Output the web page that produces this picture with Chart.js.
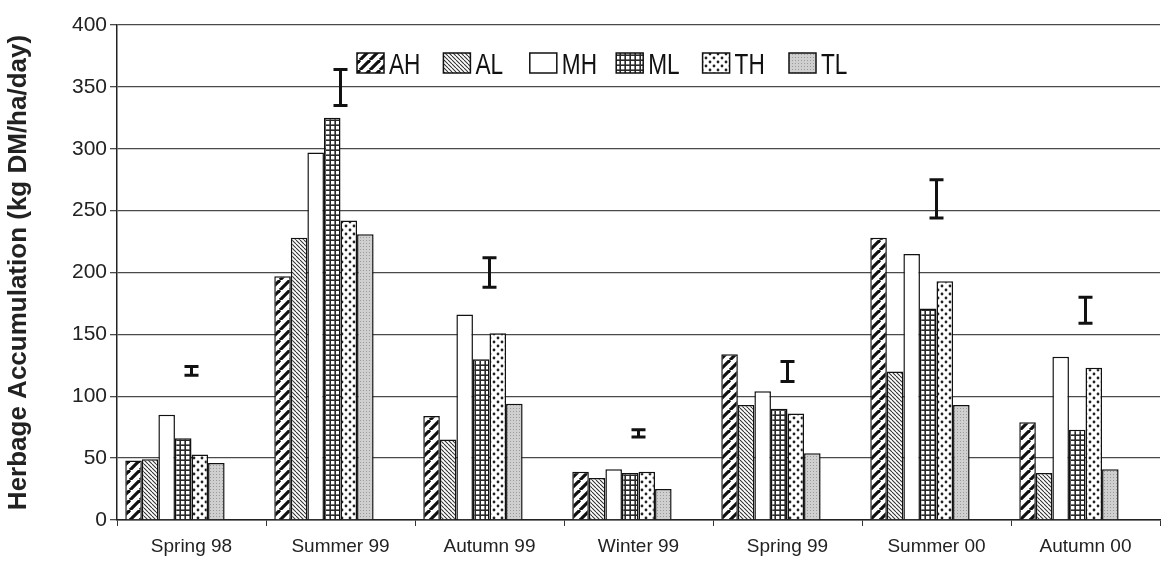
<!DOCTYPE html>
<html>
<head>
<meta charset="utf-8">
<script src="https://cdn.jsdelivr.net/npm/chart.js@4"></script>
<style>
  html, body { margin: 0; padding: 0; background: #fff; }
  #wrap { width: 1168px; height: 562px; position: relative; }
</style>
</head>
<body>
<div id="wrap"><canvas id="c"></canvas></div>
<script>
// data
var categories = ['Spring 98', 'Summer 99', 'Autumn 99', 'Winter 99', 'Spring 99', 'Summer 00', 'Autumn 00'];
var seriesNames = ['AH', 'AL', 'MH', 'ML', 'TH', 'TL'];
var AH = [48, 197, 84, 39, 134, 228, 79];
var AL = [49, 228, 65, 34, 93, 120, 38];
var MH = [85, 297, 166, 41, 104, 215, 132];
var ML = [66, 325, 130, 38, 90, 171, 73];
var TH = [53, 242, 151, 39, 86, 193, 123];
var TL = [46, 231, 94, 25, 54, 93, 41];
// LSD bars drawn above each season
var errLow = [117, 335, 188, 67, 112, 244, 159];
var errHigh = [124, 364, 212, 73, 128, 275, 180];
var yMin = 0, yMax = 400, yStep = 50;

var canvas = document.getElementById('c');
var ctx = canvas.getContext('2d');

function tile(size, draw) {
    var t = document.createElement('canvas');
    t.width = size; t.height = size;
    var g = t.getContext('2d');
    draw(g, size);
    return ctx.createPattern(t, 'repeat');
}

// fill patterns, one per treatment
var patAH = tile(10, function(g, s) {
    g.fillStyle = '#fff'; g.fillRect(0, 0, s, s);
    g.strokeStyle = '#111'; g.lineWidth = 3.2;
    [-s, 0, s].forEach(function(o) {
        g.beginPath(); g.moveTo(o, s); g.lineTo(o + s, 0); g.stroke();
    });
});
var patAL = tile(4, function(g, s) {
    g.fillStyle = '#fff'; g.fillRect(0, 0, s, s);
    g.strokeStyle = '#333'; g.lineWidth = 1.1;
    [-s, 0, s].forEach(function(o) {
        g.beginPath(); g.moveTo(o, 0); g.lineTo(o + s, s); g.stroke();
    });
});
var patML = tile(5, function(g, s) {
    g.fillStyle = '#2a2a2a'; g.fillRect(0, 0, s, s);
    g.fillStyle = '#fff'; g.fillRect(1, 1, 3.4, 3.4);
});
var patTH = tile(8, function(g, s) {
    g.fillStyle = '#fff'; g.fillRect(0, 0, s, s);
    g.fillStyle = '#222';
    [[2, 2], [6, 6]].forEach(function(p) {
        g.beginPath(); g.arc(p[0], p[1], 1.4, 0, Math.PI * 2); g.fill();
    });
});
var patTL = tile(3, function(g, s) {
    g.fillStyle = '#cfcfcf'; g.fillRect(0, 0, s, s);
    g.fillStyle = '#9a9a9a'; g.fillRect(0, 0, 1, 1);
});

var fills = [patAH, patAL, '#ffffff', patML, patTH, patTL];
var values = [AH, AL, MH, ML, TH, TL];

var datasets = seriesNames.map(function(name, i) {
    return {
        label: name,
        data: values[i],
        backgroundColor: fills[i],
        borderColor: '#111',
        borderWidth: 1.5,
        borderSkipped: 'bottom'
    };
});
// two empty series keep the bar slots of the original spreadsheet
datasets.push({ label: '', data: categories.map(function() { return null; }) });
datasets.push({ label: '', data: categories.map(function() { return null; }) });

// I-shaped bars at the centre of each season
var errorBars = {
    id: 'errorBars',
    afterDatasetsDraw: function(chart) {
        var x = chart.scales.x, y = chart.scales.y, c = chart.ctx;
        c.save();
        c.strokeStyle = '#111';
        c.lineWidth = 3;
        c.lineCap = 'butt';
        categories.forEach(function(cat, i) {
            var px = x.getPixelForValue(i);
            var top = y.getPixelForValue(errHigh[i]);
            var bot = y.getPixelForValue(errLow[i]);
            c.beginPath();
            c.moveTo(px, top); c.lineTo(px, bot);
            c.moveTo(px - 7, top); c.lineTo(px + 7, top);
            c.moveTo(px - 7, bot); c.lineTo(px + 7, bot);
            c.stroke();
        });
        c.restore();
    }
};

// legend sits inside the plot, in one row near the top
var insideLegend = {
    id: 'insideLegend',
    afterDraw: function(chart) {
        var c = chart.ctx;
        c.save();
        c.font = '29px Arial, "Liberation Sans", sans-serif';
        c.textBaseline = 'alphabetic';
        seriesNames.forEach(function(name, i) {
            var bx = 357 + i * 86.4, by = 53;
            c.fillStyle = fills[i];
            c.fillRect(bx, by, 27, 20);
            c.strokeStyle = '#111';
            c.lineWidth = 1.5;
            c.strokeRect(bx, by, 27, 20);
            c.fillStyle = '#111';
            // condensed lettering, as in the original
            c.save();
            c.translate(bx + 32, by + 21);
            c.scale(0.78, 1);
            c.fillText(name, 0, 0);
            c.restore();
        });
        c.restore();
    }
};

new Chart(canvas, {
    type: 'bar',
    data: { labels: categories, datasets: datasets },
    options: {
        responsive: true,
        maintainAspectRatio: false,
        animation: false,
        layout: { padding: { top: 25, right: 8, left: 0, bottom: 0 } },
        datasets: { bar: { categoryPercentage: 8 / 9, barPercentage: 1 } },
        plugins: { legend: { display: false }, tooltip: { enabled: false } },
        scales: {
            x: {
                grid: { offset: true, drawOnChartArea: false, drawTicks: true, tickLength: 6, color: '#333', lineWidth: 1 },
                border: { color: '#222', width: 1.5 },
                ticks: { color: '#222', padding: 9, font: { family: 'Arial, "Liberation Sans", sans-serif', size: 19 } },
                afterFit: function(s) { s.height = 42; }
            },
            y: {
                min: yMin, max: yMax,
                ticks: { stepSize: yStep, color: '#222', padding: 3, font: { family: 'Arial, "Liberation Sans", sans-serif', size: 21 } },
                grid: { color: '#4a4a4a', lineWidth: 1.3, tickLength: 7 },
                border: { color: '#222', width: 1.5 },
                title: {
                    display: true,
                    text: 'Herbage Accumulation (kg DM/ha/day)',
                    color: '#222',
                    padding: { top: 3, bottom: 0 },
                    font: { family: 'Arial, "Liberation Sans", sans-serif', size: 26, weight: 'bold' }
                },
                afterFit: function(s) { s.width = 117; }
            }
        }
    },
    plugins: [errorBars, insideLegend]
});
</script>
</body>
</html>
